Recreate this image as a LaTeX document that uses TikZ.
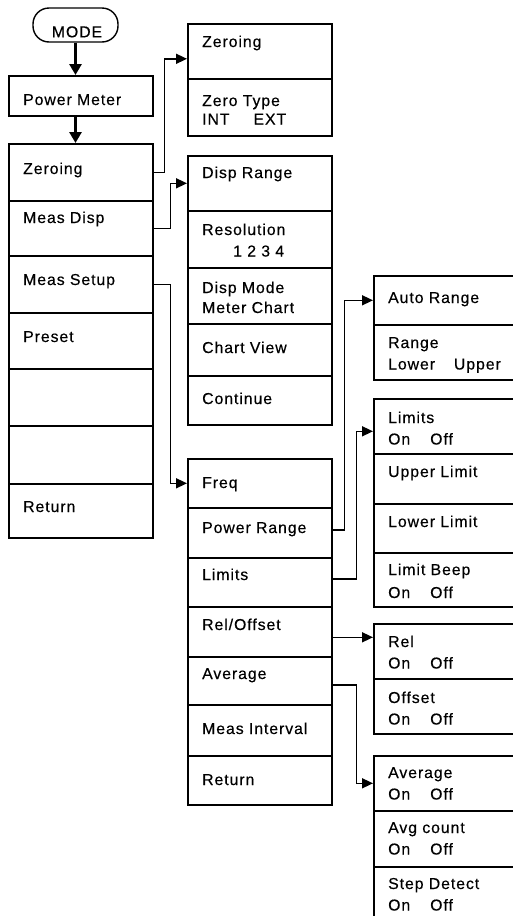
\documentclass[tikz,border=0pt]{standalone}
\usepackage{fontspec}
\setmainfont{Liberation Sans}[LetterSpace=6, FakeBold=0.4]
\usetikzlibrary{arrows.meta,calc}

\begin{document}
\begin{tikzpicture}[
  x=1pt, y=1pt,
  % one soft-key cell of a menu column
  cell/.style={draw, line width=1.6pt, anchor=north west, inner sep=0,
               minimum width=144},
  lbl/.style={anchor=base west, inner sep=0, text width=150, align=left,
              font=\fontsize{15.8}{21.5}\selectfont},
  conn/.style={line width=1.6pt, -{Triangle[length=11pt,width=10pt]}},
  down/.style={line width=2.8pt, -{Triangle[length=11pt,width=12pt]}},
  modebox/.style={draw, line width=1.4pt, rounded corners=16pt,
                  minimum width=85, minimum height=34, inner sep=0}
]
\useasboundingbox (0,0) rectangle (513,-916);
\clip (0,0) rectangle (513,-916);

% ══ entry: MODE key and the Power Meter mode ═══════════════════════════════
\node[modebox] (mode) at (75.5,-25) {};
\node[font=\fontsize{15.8}{19}\selectfont, inner sep=0, anchor=base]
  (modeT) at (77,-37.3) {MODE};
\node[cell, minimum height=40] (pm) at (8,-75) {};
\node[lbl] (pmT) at (23,-105) {Power Meter};

% ══ main soft-key column ═══════════════════════════════════════════════════
\foreach \nm/\ty/\rh/\bl/\txt in {mZero/143/57/174/Zeroing,
    mDisp/200/55/223/Meas Disp, mSetup/255/57/285/Meas Setup,
    mPreset/312/56/342/Preset, mBlankA/368/57/400/{}, mBlankB/425/58/450/{},
    mRet/483/54/512/Return}{
  \node[cell, minimum height=\rh] (\nm) at (8,-\ty) {};
  \node[lbl] (\nm T) at (23,-\bl) {\txt};
}

% ══ second level: Zeroing, Meas Disp, Meas Setup ═══════════════════════════
\foreach \nm/\ty/\rh/\bl/\txt in {zZero/23/55/47/Zeroing,
    zType/78/57/106/{Zero Type\\[-3pt]INT\hspace{24pt}EXT},
    dRange/155/55/178/Disp Range,
    dRes/210/57/235/{Resolution\\\hspace*{31pt}1 2 3 4},
    dMode/267/56/293/{Disp Mode\\[-1.5pt]Meter Chart},
    dView/323/52/353/Chart View, dCont/375/49/404/Continue,
    fFreq/458/49/488/Freq, fPower/507/50/533/Power Range,
    fLimits/557/49/580/Limits, fRel/606/50/630/{Rel/Offset},
    fAvg/656/48/679/Average, fIntv/704/51/734/Meas Interval,
    fRet/755/49/785/Return}{
  \node[cell, minimum height=\rh] (\nm) at (187,-\ty) {};
  \node[lbl] (\nm T) at (202,-\bl) {\txt};
}

% ══ third level: Meas Setup sub-menus (run off the right edge) ═════════════
\foreach \nm/\ty/\rh/\bl/\txt in {rAuto/275/49/303/Auto Range,
    rRange/324/55/348/{Range\\Lower\hspace{19pt}Upper},
    rLimits/398/55/423/{Limits\\On\hspace{20pt}Off},
    rUpper/453/50/477/Upper Limit, rLower/503/49/527/Lower Limit,
    rBeep/552/54/575/{Limit Beep\\[1.5pt]On\hspace{20pt}Off},
    rRel/623/55/647/{Rel\\On\hspace{20pt}Off},
    rOffs/678/55/703/{Offset\\On\hspace{20pt}Off},
    rAvg/755/55/778/{Average\\On\hspace{20pt}Off},
    rCount/810/56/833/{Avg count\\On\hspace{20pt}Off},
    rStep/866/54/889/{Step Detect\\On\hspace{20pt}Off}}{
  \node[cell, minimum width=150, minimum height=\rh] (\nm) at (373,-\ty) {};
  \node[lbl] (\nm T) at (388,-\bl) {\txt};
}

% ══ connectors ═════════════════════════════════════════════════════════════
\draw[down] (mode.south) -- (mode.south |- pm.north);
\draw[down] (mode.south |- pm.south) -- (mode.south |- mZero.north);

\draw[conn] (mZero.east) -- ++(11,0) |- ([yshift=-7.5]zZero.west);
\draw[conn] (mDisp.east) -- ++(17,0) |- (dRange.west);
\draw[conn] (mSetup.east) -- ++(17,0) |- (fFreq.west);

\draw[conn] ([yshift=3]fPower.east) -- ++(12,0) |- (rAuto.west);
\draw[conn] ([yshift=3.5]fLimits.east) -- ++(24,0) |- ([yshift=-5]rLimits.west);
\draw[conn] ([yshift=-5.5]fRel.east) -- ([yshift=-5.5]fRel.east -| rRel.west);
\draw[conn] ([yshift=-4]fAvg.east) -- ++(24,0) |- (rAvg.west);

\end{tikzpicture}
\end{document}
